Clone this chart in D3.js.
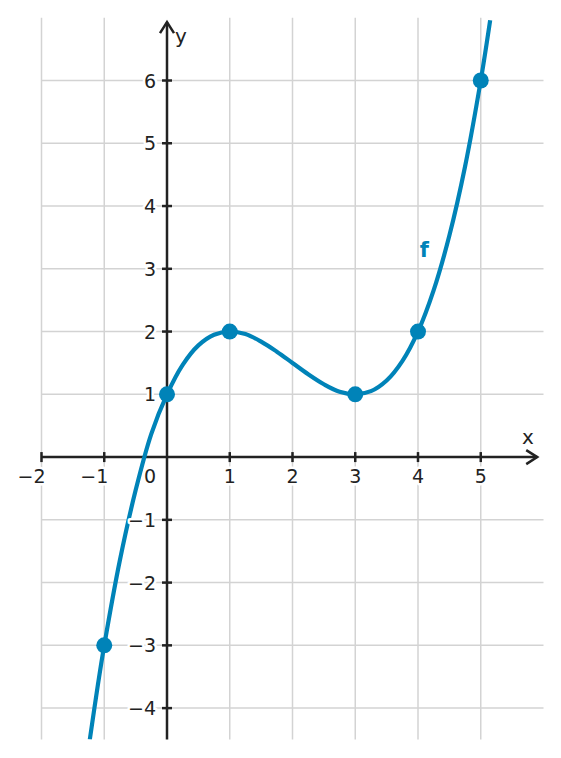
<!DOCTYPE html>
<html><head><meta charset="utf-8">
<script src="https://cdn.jsdelivr.net/npm/d3@7"></script>
<style>body{margin:0;background:#fff}svg text{font-family:"DejaVu Sans",sans-serif}</style>
</head><body><svg id="c" width="561" height="758"></svg>
<script>
const xTicks = [-2,-1,0,1,2,3,4,5];
const yTicks = [-4,-3,-2,-1,1,2,3,4,5,6];
const gridX = [-2,-1,1,2,3,4,5];
const gridY = [-4,-3,-2,-1,1,2,3,4,5,6];
const curveX = [-1.23,-1.1,-1,-0.75,-0.5,-0.25,0,0.25,0.5,0.75,1,1.25,1.5,1.75,2,2.25,2.5,2.75,3,3.25,3.5,3.75,4,4.25,4.5,4.75,5,5.15];
const curveY = [-4.50,-3.62,-3,-1.64,-0.53,0.37,1,1.47,1.78,1.95,2,1.96,1.84,1.68,1.5,1.32,1.16,1.04,1,1.05,1.22,1.53,2,2.66,3.53,4.63,6,6.96];
const pointX = [-1,0,1,3,4,5];
const pointY = [-3,1,2,1,2,6];
const seriesLabel = "f";

const svg = d3.select("#c");
const x = d3.scaleLinear().domain([-2,6]).range([41.5,543.5]);
const y = d3.scaleLinear().domain([-4.5,7]).range([739.5,17.75]);
const blue = "#0083b8", ink = "#222222", gridC = "#d3d3d3";

svg.append("g").selectAll("line").data(gridX).join("line")
  .attr("x1",d=>x(d)).attr("x2",d=>x(d)).attr("y1",y(7)).attr("y2",y(-4.5))
  .attr("stroke",gridC).attr("stroke-width",1.5);
svg.append("g").selectAll("line").data(gridY).join("line")
  .attr("y1",d=>y(d)).attr("y2",d=>y(d)).attr("x1",x(-2)).attr("x2",x(6))
  .attr("stroke",gridC).attr("stroke-width",1.5);

const ax = svg.append("g").attr("stroke",ink).attr("stroke-width",2.5).attr("fill","none");
ax.append("line").attr("x1",x(-2)).attr("x2",x(5.9)).attr("y1",y(0)).attr("y2",y(0));
ax.append("line").attr("x1",x(0)).attr("x2",x(0)).attr("y1",y(-4.5)).attr("y2",y(6.93));
const tx = x(5.9), ty = y(0);
ax.append("path").attr("d",`M${tx-11},${ty-7}L${tx},${ty}L${tx-11},${ty+7}`);
const ux = x(0), uy = y(6.93);
ax.append("path").attr("d",`M${ux-7},${uy+11}L${ux},${uy}L${ux+7},${uy+11}`);
ax.selectAll(".xt").data(xTicks.filter(d=>d!==0)).join("line")
  .attr("x1",d=>x(d)).attr("x2",d=>x(d)).attr("y1",y(0)-5).attr("y2",y(0)+5);
ax.selectAll(".yt").data(yTicks).join("line")
  .attr("y1",d=>y(d)).attr("y2",d=>y(d)).attr("x1",x(0)-5).attr("x2",x(0)+5);

svg.append("clipPath").attr("id","pc").append("rect")
  .attr("x",x(-2)).attr("y",y(7)).attr("width",x(6)-x(-2)).attr("height",y(-4.5)-y(7));
const line = d3.line().x(d=>x(d[0])).y(d=>y(d[1])).curve(d3.curveCatmullRom.alpha(0.5));
svg.append("path").datum(curveX.map((v,i)=>[v,curveY[i]]))
  .attr("clip-path","url(#pc)").attr("d",line).attr("fill","none")
  .attr("stroke",blue).attr("stroke-width",4.2);

const fmt = d=>d<0?"\u2212"+Math.abs(d):String(d);
const lab = svg.append("g").attr("font-size",19).attr("fill",ink)
  .attr("stroke","#fff").attr("stroke-width",5).attr("paint-order","stroke").attr("stroke-linejoin","round");
lab.selectAll(".xl").data(xTicks).join("text")
  .attr("x",d=>d===0?x(0)-17:(d<0?x(d)+4:x(d)))
  .attr("y",y(0)+26)
  .attr("text-anchor",d=>d<0?"end":"middle")
  .text(fmt);
lab.selectAll(".yl").data(yTicks).join("text")
  .attr("x",x(0)-11).attr("y",d=>y(d)+7).attr("text-anchor","end")
  .text(fmt);

svg.append("text").attr("x",528).attr("y",444).attr("font-size",20).attr("fill",ink).attr("text-anchor","middle").text("x");
svg.append("text").attr("x",181).attr("y",43).attr("font-size",20).attr("fill",ink).attr("text-anchor","middle").text("y");

svg.append("g").selectAll("circle").data(pointX.map((v,i)=>[v,pointY[i]])).join("circle")
  .attr("cx",d=>x(d[0])).attr("cy",d=>y(d[1])).attr("r",8).attr("fill",blue);

svg.append("text").attr("x",x(4.1)).attr("y",y(3.3)+7).attr("font-size",21).attr("font-weight","bold")
  .attr("fill",blue).attr("text-anchor","middle").text(seriesLabel);
</script></body></html>
